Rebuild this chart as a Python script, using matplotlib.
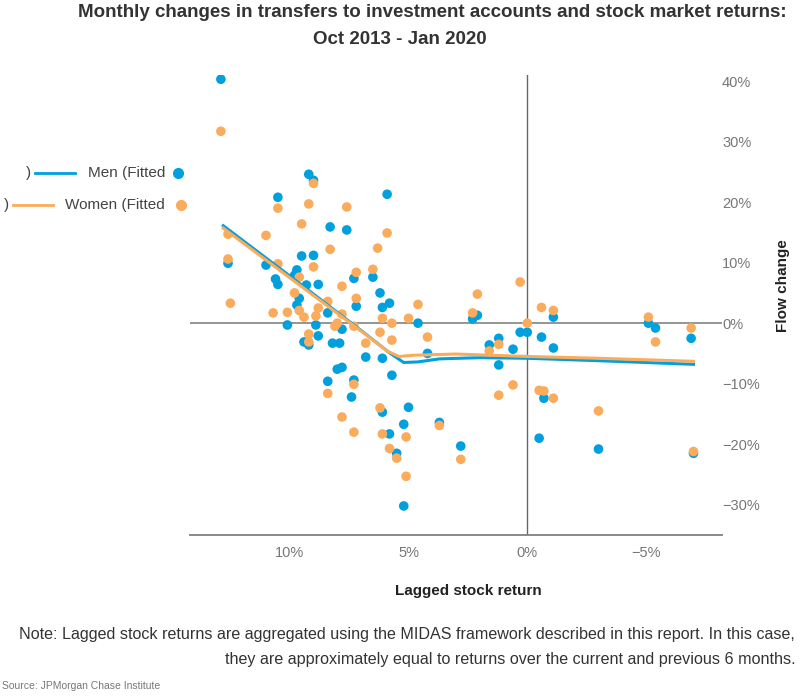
import matplotlib
matplotlib.use("Agg")
import matplotlib.pyplot as plt
from matplotlib.lines import Line2D

plt.rcParams['font.family'] = ['Liberation Sans', 'DejaVu Sans']

# Lagged stock return (%) / Flow change (%) -- men
men_x = [12.9, 9.2, 9.0, 10.5, 5.9, 8.3, 7.6, 9.5, 9.0, 12.6, 11.0, 9.7, 10.6, 10.5,
         9.8, 9.3, 8.8, 7.3, 6.5, 6.2, 5.8, 6.1, 7.2, 9.6, 9.7, 8.4, 10.1, 8.9, 7.8,
         8.8, 9.4, 9.2, 8.2, 7.9, 4.6, 6.8, 6.1, 4.2, 5.7, 8.0, 7.8, 8.4, 7.3, 7.4,
         5.0, 6.1, 5.2, 5.8, 5.5, 3.7, 2.8, 5.2, 2.3, 2.1, 1.6, 1.2, 1.2, 0.6, 0.3,
         0.0, -0.6, -1.1, -1.1, -0.7, -0.5, -3.0, -5.1, -5.4, -6.9, -7.0]
men_y = [40.3, 24.6, 23.6, 20.8, 21.3, 15.9, 15.4, 11.1, 11.2, 9.9, 9.6, 8.8, 7.3, 6.4,
         7.9, 6.3, 6.4, 7.4, 7.6, 5.0, 3.3, 2.6, 2.8, 4.1, 3.0, 1.7, -0.3, -0.3, -1.0,
         -2.1, -3.1, -3.6, -3.3, -3.3, 0.0, -5.6, -5.8, -5.0, -8.6, -7.6, -7.3, -9.6, -9.4, -12.2,
         -13.9, -14.7, -16.7, -18.3, -21.5, -16.4, -20.3, -30.2, 0.7, 1.3, -3.6, -2.5, -6.9, -4.3, -1.5,
         -1.5, -2.3, 1.0, -4.1, -12.4, -19.0, -20.8, 0.0, -0.8, -2.5, -21.5]

# women
women_x = [12.9, 9.0, 10.5, 9.2, 7.6, 9.5, 11.0, 12.6, 5.9, 6.3, 8.3, 12.6, 10.5, 9.0,
           9.6, 7.2, 6.5, 9.8, 7.8, 7.2, 8.4, 12.5, 4.6, 2.1, 0.3, -0.6, -1.1, 10.7,
           10.1, 9.6, 9.4, 8.9, 8.8, 7.8, 8.1, 8.0, 7.3, 6.1, 5.7, 5.0, 6.2, 5.7, 4.2,
           6.8, 9.2, 9.2, 8.4, 7.3, 7.8, 7.3, 6.2, 6.1, 5.8, 5.5, 5.1, 5.1, 3.7, 2.8,
           2.3, 1.6, 1.2, 1.2, 0.6, 0.0, -0.5, -0.7, -1.1, -3.0, -5.1, -5.4, -6.9, -7.0]
women_y = [31.7, 23.1, 19.0, 19.7, 19.2, 16.4, 14.5, 14.7, 14.9, 12.4, 12.2, 10.6, 9.8, 9.3,
           7.6, 8.4, 8.9, 5.0, 6.1, 4.1, 3.6, 3.3, 3.1, 4.8, 6.8, 2.6, 2.1, 1.7,
           1.8, 2.1, 1.0, 1.2, 2.5, 1.5, -0.5, 0.0, -0.5, 0.8, 0.0, 0.8, -1.5, -2.8, -2.3,
           -3.3, -1.8, -3.1, -11.6, -10.1, -15.5, -18.0, -14.0, -18.3, -20.7, -22.3, -18.8, -25.3, -16.9, -22.5,
           1.7, -4.6, -3.5, -11.9, -10.2, 0.0, -11.1, -11.2, -12.4, -14.5, 1.0, -3.1, -0.8, -21.2]

# fitted curves
men_fit_x = [12.8, 10.0, 7.0, 5.8, 5.2, 4.6, 3.7, 2.0, 0.0, -3.0, -7.0]
men_fit_y = [16.1, 7.8, -1.2, -4.9, -6.5, -6.4, -5.9, -5.7, -5.8, -6.2, -6.8]
women_fit_x = [12.8, 10.0, 7.0, 5.9, 5.4, 4.8, 3.0, 0.0, -3.0, -7.0]
women_fit_y = [15.7, 7.5, -1.3, -4.6, -5.5, -5.3, -5.1, -5.5, -5.8, -6.3]

x_ticks = [10, 5, 0, -5]
x_labels = ['10%', '5%', '0%', '\u22125%']
y_ticks = [40, 30, 20, 10, 0, -10, -20, -30]
y_labels = ['40%', '30%', '20%', '10%', '0%', '\u221210%', '\u221220%', '\u221230%']

BLUE = '#00A0DF'
ORANGE = '#FAAC5C'
GREY = '#777777'

fig = plt.figure(figsize=(8, 6.97), dpi=100)
ax = fig.add_axes([0.2375, 0.2324, 0.665, 0.66])

ax.axhline(0, color='#8c8c8c', lw=1.3, zorder=1)
ax.axvline(0, color='#666666', lw=1.0, zorder=1)

ax.scatter(men_x, men_y, s=48, color=BLUE, edgecolors='none', zorder=3)
ax.scatter(women_x, women_y, s=48, color=ORANGE, edgecolors='none', zorder=4)
ax.plot(men_fit_x, men_fit_y, color=BLUE, lw=2.2, zorder=5)
ax.plot(women_fit_x, women_fit_y, color=ORANGE, lw=2.2, zorder=6)

ax.set_xlim(14.2, -8.2)
ax.set_ylim(-35, 41)

ax.set_xticks(x_ticks)
ax.set_xticklabels(x_labels)
ax.set_yticks(y_ticks)
ax.set_yticklabels(y_labels)
ax.yaxis.tick_right()
ax.tick_params(axis='both', length=0, labelsize=10.5, colors=GREY)
ax.tick_params(axis='y', pad=0)
ax.tick_params(axis='x', pad=8)

for s in ['top', 'left', 'right']:
    ax.spines[s].set_visible(False)
ax.spines['bottom'].set_color('#808080')
ax.spines['bottom'].set_linewidth(1.3)

# title
fig.text(0.54, 0.982, 'Monthly changes in transfers to investment accounts and stock market returns:',
         ha='center', va='center', fontsize=13.5, fontweight='bold', color='#333333')
fig.text(0.50, 0.944, 'Oct 2013 - Jan 2020',
         ha='center', va='center', fontsize=13.5, fontweight='bold', color='#333333')

# axis labels
fig.text(0.586, 0.152, 'Lagged stock return', ha='center', va='center',
         fontsize=11, fontweight='bold', color='#222222')
fig.text(0.979, 0.59, 'Flow change', ha='center', va='center', rotation=90,
         fontsize=11, fontweight='bold', color='#222222')

# legend (mirrored layout)
fig.add_artist(Line2D([178 / 800], [1 - 173 / 697], marker='o', markersize=7,
                      color=BLUE, linestyle='none'))
fig.text(165 / 800, 1 - 173 / 697, 'Men (Fitted', ha='right', va='center', fontsize=11, color='#444444')
fig.add_artist(Line2D([35 / 800, 75 / 800], [1 - 173 / 697] * 2, color=BLUE, lw=2))
fig.text(28 / 800, 1 - 173 / 697, ')', ha='center', va='center', fontsize=11, color='#444444')

fig.add_artist(Line2D([181 / 800], [1 - 205 / 697], marker='o', markersize=7,
                      color=ORANGE, linestyle='none'))
fig.text(165 / 800, 1 - 205 / 697, 'Women (Fitted', ha='right', va='center', fontsize=11, color='#444444')
fig.add_artist(Line2D([13 / 800, 53 / 800], [1 - 205 / 697] * 2, color=ORANGE, lw=2))
fig.text(6 / 800, 1 - 205 / 697, ')', ha='center', va='center', fontsize=11, color='#444444')

# note and source
fig.text(0.994, 0.089, 'Note: Lagged stock returns are aggregated using the MIDAS framework described in this report. In this case,',
         ha='right', va='center', fontsize=11.6, color='#333333')
fig.text(0.994, 0.054, 'they are approximately equal to returns over the current and previous 6 months.',
         ha='right', va='center', fontsize=11.6, color='#333333')
fig.text(0.003, 0.016, 'Source: JPMorgan Chase Institute', ha='left', va='center',
         fontsize=7.5, color='#777777')

fig.savefig('out.png', dpi=100)
